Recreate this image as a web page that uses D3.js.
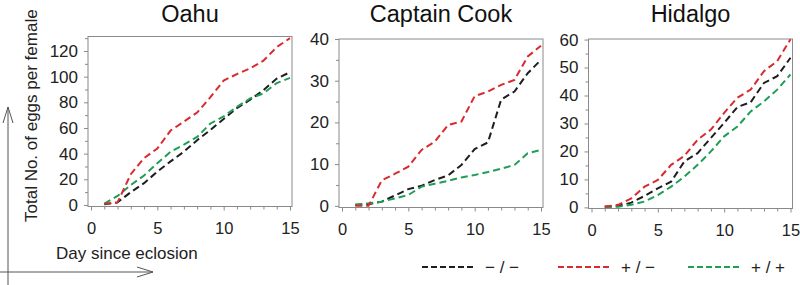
<!DOCTYPE html>
<html><head><meta charset="utf-8">
<script src="https://cdn.jsdelivr.net/npm/d3@7"></script>
<style>body{margin:0;background:#fff}svg{display:block;font-family:"Liberation Sans",Arial,sans-serif}</style>
</head><body><svg id="c" width="800" height="285"></svg>
<script>
const days = [1,2,3,4,5,6,7,8,9,10,11,12,13,14,15];
const panels = ["Oahu","Captain Cook","Hidalgo"];
const seriesNames = ["\u2212 / \u2212","+ / \u2212","+ / +"];
const colors = ["#1e1e1e","#d92b2f","#1f9e55"];
// Oahu
const oahuMM = [0.5,2,10,17,26,34,41.5,50.5,58.5,67,75.5,82,89.5,98.5,103.5];
const oahuPM = [0.8,2,24,36.5,44,58,65,72,84,97,102,106.5,112.5,123,130];
const oahuPP = [1,7,15.5,23,32.5,41.5,47,53,63.5,69,76.5,83,87,95,99];
// Captain Cook
const cookMM = [0.2,0.4,1.0,2.5,4.0,4.8,6.2,7.3,9.8,13.6,15.2,25.5,27.4,31.8,35];
const cookPM = [0,0,6.1,7.7,9.4,13.4,15.4,19.4,20.2,26.3,27.4,29,30.2,35.8,38.4];
const cookPP = [0.3,0.6,1.0,1.8,2.6,4.6,5.3,6.0,6.8,7.4,8.1,8.9,9.8,12.6,13.4];
// Hidalgo
const hidMM = [0.2,0.5,1.7,4.1,6.8,9.2,16.4,19.4,24.8,30.2,35.9,37.6,44.5,46.9,53.5];
const hidPM = [0.3,0.9,3.2,7.4,9.8,15.2,18.4,24.2,27.8,33.8,39.2,42.1,48.7,52.3,60.1];
const hidPP = [0.1,0.2,0.9,2.1,4.4,7.4,11.0,15.2,20.0,25.4,28.9,34.3,37.9,42.1,47.5];
const yMax = [131.3, 40, 60.2];
const yMin = [-1.2, -0.4, -0.4];
const yMajor = [[0,20,40,60,80,100,120],[0,10,20,30,40],[0,10,20,30,40,50,60]];
const yMinor = [[10,30,50,70,90,110,130],[5,15,25,35],[5,15,25,35,45,55]];
const xMajor = [0,5,10,15];
const xMinor = [1,2,3,4,6,7,8,9,11,12,13,14];

const data = [[oahuMM,oahuPM,oahuPP],[cookMM,cookPM,cookPP],[hidMM,hidPM,hidPP]];
const lefts = [88,339,588.5];
const tops = [36.5,39,39];
const bottoms = [206.5,207.5,208.5];
const W = 204;

const svg = d3.select("#c");
const axisCol = "#8a8a8a", txtCol = "#222";

panels.forEach((name,i)=>{
  const L = lefts[i], T = tops[i], B = bottoms[i];
  const x = d3.scaleLinear().domain([0,15]).range([L+3, L+202]);
  const y = d3.scaleLinear().domain([yMin[i], yMax[i]]).range([B, T]);
  const g = svg.append("g");
  // title
  g.append("text").attr("x", L+W/2).attr("y", 21.5).attr("text-anchor","middle")
    .attr("font-size",23.5).attr("fill","#111").text(name);
  // frame
  g.append("rect").attr("x",L).attr("y",T).attr("width",W).attr("height",B-T)
    .attr("fill","none").attr("stroke",axisCol).attr("stroke-width",1);
  // y axis
  const ya = d3.axisLeft(y).tickValues(yMajor[i]).tickSize(4).tickPadding(6).tickFormat(d3.format("d"));
  const yg = g.append("g").attr("transform",`translate(${L},0)`).call(ya);
  yg.select(".domain").remove();
  yg.selectAll("line").attr("stroke",axisCol);
  yg.selectAll("text").attr("font-size",17).attr("fill",txtCol).attr("font-family","Liberation Sans, Arial, sans-serif");
  const ym = d3.axisLeft(y).tickValues(yMinor[i].filter(v=>v<=yMax[i])).tickSize(3).tickFormat("");
  const ymg = g.append("g").attr("transform",`translate(${L},0)`).call(ym);
  ymg.select(".domain").remove();
  ymg.selectAll("line").attr("stroke",axisCol);
  // x axis
  const xa = d3.axisBottom(x).tickValues(xMajor).tickSize(4).tickPadding(12).tickFormat(d3.format("d"));
  const xg = g.append("g").attr("transform",`translate(0,${B})`).call(xa);
  xg.select(".domain").remove();
  xg.selectAll("line").attr("stroke",axisCol);
  xg.selectAll("text").attr("font-size",16.5).attr("fill",txtCol).attr("font-family","Liberation Sans, Arial, sans-serif");
  const xm = d3.axisBottom(x).tickValues(xMinor).tickSize(3).tickFormat("");
  const xmg = g.append("g").attr("transform",`translate(0,${B})`).call(xm);
  xmg.select(".domain").remove();
  xmg.selectAll("line").attr("stroke",axisCol);
  // lines
  const line = d3.line().x((d,k)=>x(days[k])).y(d=>y(d));
  [0,2,1].forEach(s=>{
    g.append("path").datum(data[i][s]).attr("d",line).attr("fill","none")
      .attr("stroke",colors[s]).attr("stroke-width",2).attr("stroke-dasharray","7,4");
  });
});

// axis titles
svg.append("text").attr("transform","translate(37,222) rotate(-90)")
  .attr("font-size",17).attr("fill",txtCol).text("Total No. of eggs per female");
svg.append("text").attr("x",56).attr("y",259)
  .attr("font-size",17).attr("fill",txtCol).text("Day since eclosion");

// arrows
const arr = svg.append("g").attr("stroke","#555").attr("stroke-width",1).attr("fill","none");
arr.append("line").attr("x1",8).attr("y1",285).attr("x2",8).attr("y2",107);
arr.append("path").attr("d","M3,123 L8,107 L13,123");
arr.append("line").attr("x1",0).attr("y1",272).attr("x2",153).attr("y2",272);
arr.append("path").attr("d","M137,267 L153,272 L137,277");

// legend
const legX = [422,558,688];
seriesNames.forEach((n,s)=>{
  svg.append("line").attr("x1",legX[s]).attr("x2",legX[s]+52).attr("y1",267).attr("y2",267)
    .attr("stroke",colors[s]).attr("stroke-width",2).attr("stroke-dasharray","6,3");
  svg.append("text").attr("x",legX[s]+63).attr("y",273).attr("font-size",17)
    .attr("fill",txtCol).attr("xml:space","preserve").text(n);
});
</script></body></html>
